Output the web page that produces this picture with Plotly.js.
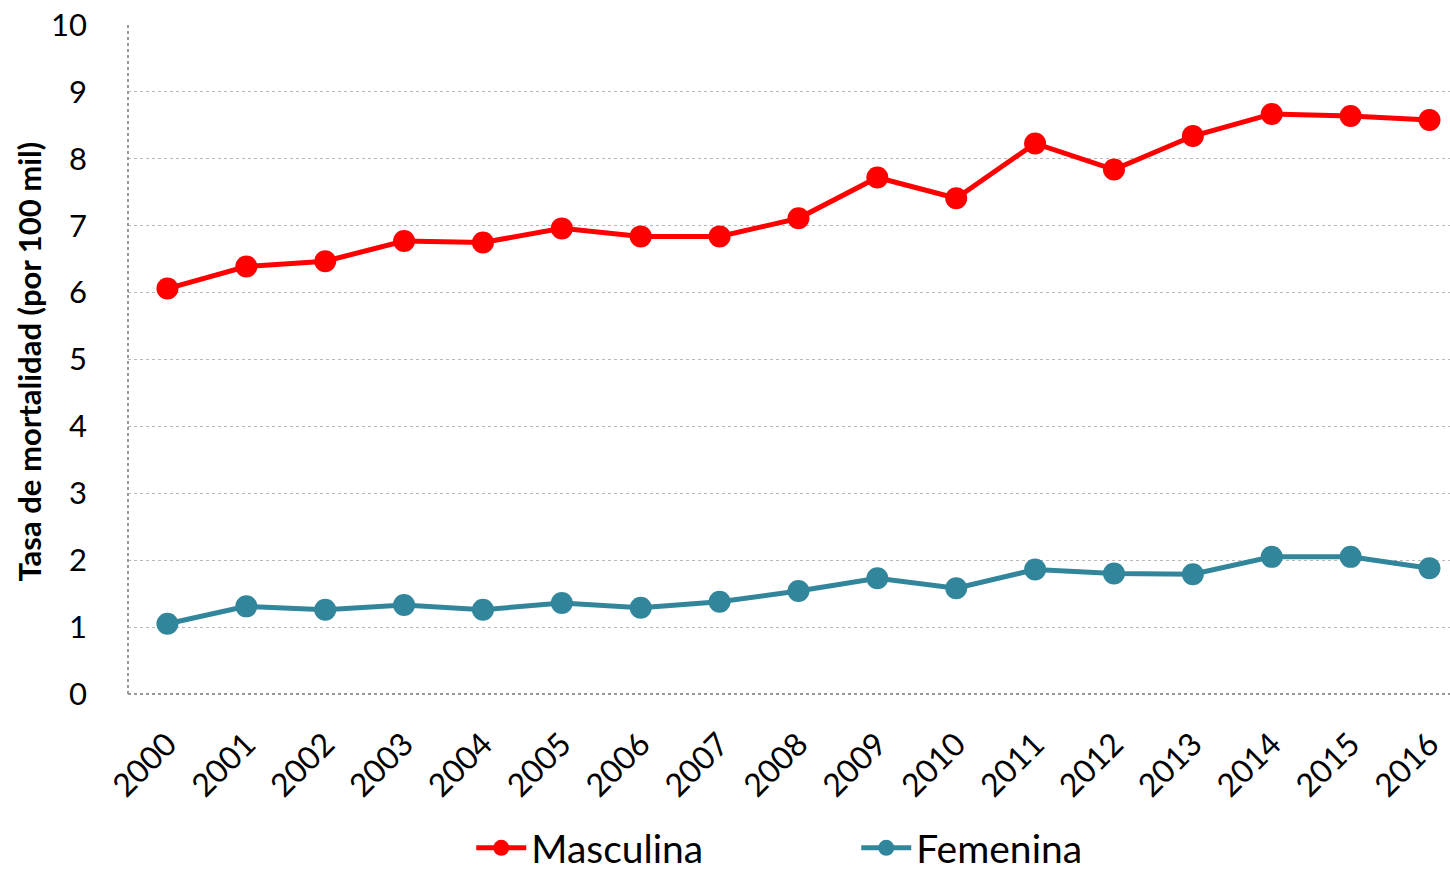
<!DOCTYPE html>
<html>
<head>
<meta charset="utf-8">
<script src="https://cdn.plot.ly/plotly-3.0.1.min.js"></script>
<style>
  html, body { margin: 0; padding: 0; background: #fff; }
  #chart { width: 1450px; height: 876px; }
</style>
</head>
<body>
<div id="chart"></div>
<script>
// years on the category axis
const years = ['2000', '2001', '2002', '2003', '2004', '2005', '2006', '2007', '2008',
  '2009', '2010', '2011', '2012', '2013', '2014', '2015', '2016'];

// tasa por 100 mil
const masculina = [6.06, 6.39, 6.47, 6.77, 6.75, 6.96, 6.84, 6.84, 7.11,
  7.72, 7.41, 8.23, 7.84, 8.34, 8.67, 8.64, 8.58];
const femenina = [1.05, 1.31, 1.26, 1.33, 1.26, 1.36, 1.29, 1.38, 1.54,
  1.73, 1.58, 1.86, 1.80, 1.79, 2.05, 2.05, 1.88];

const yTicks = [0, 1, 2, 3, 4, 5, 6, 7, 8, 9, 10];

const fontFam = 'Lato, "Open Sans", sans-serif';
const gridCol = '#b8b8b8';

const traces = [
  {
    x: years, y: masculina, name: 'Masculina',
    type: 'scatter', mode: 'lines+markers',
    line: { color: '#ff0000', width: 5 },
    marker: { color: '#ff0000', size: 22 }
  },
  {
    x: years, y: femenina, name: 'Femenina',
    type: 'scatter', mode: 'lines+markers',
    line: { color: '#31869b', width: 5 },
    marker: { color: '#31869b', size: 22 }
  }
];

const layout = {
  width: 1450,
  height: 876,
  paper_bgcolor: '#fff',
  plot_bgcolor: '#fff',
  font: { family: fontFam, color: '#000' },
  margin: { l: 128, r: 0, t: 25, b: 182 },
  showlegend: true,
  legend: {
    orientation: 'h',
    xref: 'container', yref: 'container',
    x: 0.325, xanchor: 'left',
    y: 0.032, yanchor: 'middle',
    entrywidth: 320,
    font: { size: 39, family: fontFam },
    itemwidth: 50
  },
  xaxis: {
    type: 'category',
    range: [-0.5, 16.26],
    tickangle: -45,
    tickfont: { size: 32 },
    showgrid: false,
    showline: false,
    ticks: '',
    ticklabelstandoff: 24,
    automargin: false,
    zeroline: false
  },
  yaxis: {
    range: [0, 10],
    tickmode: 'array',
    tickvals: yTicks,
    tickfont: { size: 31 },
    showgrid: true,
    gridcolor: gridCol,
    griddash: 'dot',
    gridwidth: 1,
    showline: false,
    ticks: '',
    ticklabelstandoff: 40,
    automargin: false,
    zeroline: false
  },
  annotations: [
    {
      text: '<b>Tasa de mortalidad (por 100 mil)</b>',
      xref: 'paper', yref: 'paper',
      x: -0.0756, y: 0.497,
      xanchor: 'center', yanchor: 'middle',
      textangle: -90,
      showarrow: false,
      font: { size: 31 }
    }
  ],
  // dotted frame lines on the left and bottom, as in the original
  shapes: [
    { type: 'line', xref: 'paper', yref: 'paper', x0: 0, x1: 0, y0: 0, y1: 1,
      line: { color: '#999', width: 2, dash: 'dot' } },
    { type: 'line', xref: 'paper', yref: 'paper', x0: 0, x1: 1, y0: 0, y1: 0,
      line: { color: '#999', width: 2, dash: 'dot' } }
  ]
};

Plotly.newPlot('chart', traces, layout, { displayModeBar: false, staticPlot: true });
</script>
</body>
</html>
